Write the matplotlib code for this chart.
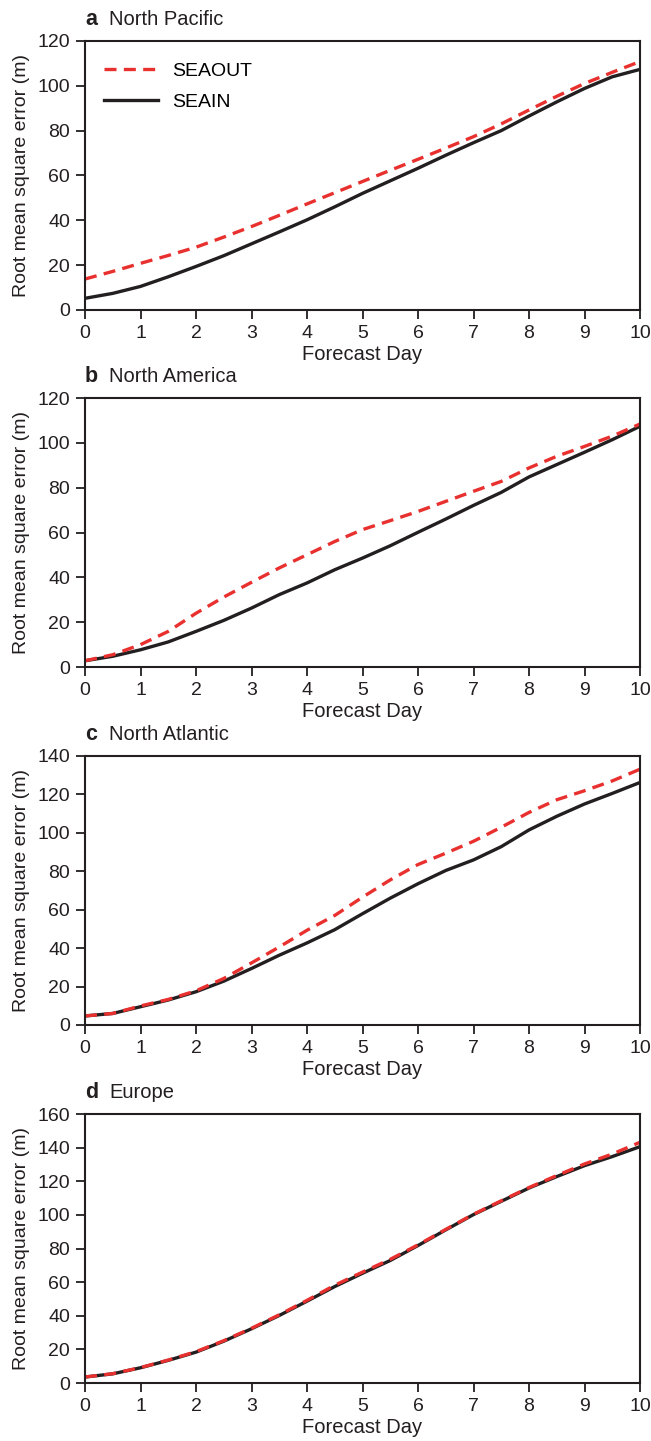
import matplotlib.pyplot as plt

plt.rcParams['font.family'] = ['Liberation Sans', 'DejaVu Sans']
plt.rcParams['font.size'] = 14

days = [0, 0.5, 1, 1.5, 2, 2.5, 3, 3.5, 4, 4.5, 5, 5.5, 6, 6.5, 7, 7.5, 8, 8.5, 9, 9.5, 10]

# panel a - North Pacific
pac_out = [13.8, 17.2, 20.8, 24.3, 28.0, 32.5, 37.2, 42.2, 47.3, 52.3, 57.3, 62.3, 67.2, 72.2, 77.3, 83.0, 89.2, 95.3, 101.0, 106.0, 110.8]
pac_in = [5.2, 7.4, 10.5, 14.8, 19.4, 24.2, 29.5, 34.8, 40.2, 46.0, 52.0, 57.6, 63.2, 69.0, 74.6, 80.0, 86.5, 92.8, 98.8, 104.0, 107.3]

# panel b - North America
am_out = [2.8, 5.5, 10.0, 15.9, 24.0, 31.2, 37.8, 44.2, 50.1, 56.0, 61.3, 65.3, 69.4, 73.9, 78.4, 82.8, 88.8, 94.0, 98.4, 103.0, 108.4]
am_in = [2.8, 4.8, 7.7, 11.2, 15.9, 20.8, 26.3, 32.3, 37.5, 43.4, 48.6, 54.1, 60.1, 66.0, 72.1, 77.9, 84.8, 90.3, 95.8, 101.4, 107.4]

# panel c - North Atlantic
atl_out = [4.7, 6.0, 9.9, 13.3, 17.8, 24.2, 32.3, 40.6, 49.3, 57.0, 66.5, 75.5, 83.5, 89.4, 95.6, 102.9, 110.6, 117.2, 121.9, 127.0, 133.1]
atl_in = [4.7, 6.0, 9.5, 13.0, 17.3, 22.8, 29.4, 36.3, 42.7, 49.6, 57.9, 66.0, 73.5, 80.4, 85.9, 92.8, 101.5, 108.6, 115.0, 120.5, 126.2]

# panel d - Europe
eu_out = [3.6, 5.6, 9.2, 13.7, 18.7, 25.2, 32.6, 40.6, 49.2, 58.2, 66.0, 73.6, 82.2, 91.4, 100.4, 108.4, 116.3, 123.4, 130.3, 136.2, 143.2]
eu_in = [3.6, 5.5, 9.1, 13.5, 18.4, 24.9, 32.3, 40.2, 48.7, 57.4, 65.3, 72.9, 81.8, 91.1, 100.2, 108.1, 116.0, 122.8, 129.3, 134.7, 140.6]

panels = [
    ("a", "North Pacific", pac_out, pac_in, 120),
    ("b", "North America", am_out, am_in, 120),
    ("c", "North Atlantic", atl_out, atl_in, 140),
    ("d", "Europe", eu_out, eu_in, 160),
]
bottoms = [0.7849, 0.5371, 0.2887, 0.0402]

fig = plt.figure(figsize=(6.51, 14.41), dpi=100)

for i, (letter, name, out, inn, ymax) in enumerate(panels):
    ax = fig.add_axes([0.1306, bottoms[i], 0.8525, 0.1867])
    ax.plot(days, inn, color="#231f20", lw=2.4, label="SEAIN")
    ax.plot(days, out, color="#e8312f", lw=2.4, linestyle=(0, (3.6, 2.2)), label="SEAOUT")
    ax.set_xlim(0, 10)
    ax.set_ylim(0, ymax)
    ax.set_xticks(range(0, 11))
    ax.set_yticks(range(0, ymax + 1, 20))
    ax.tick_params(direction="out", length=6.3, width=1.3, labelsize=14, pad=4.5, colors="#231f20")
    for s in ax.spines.values():
        s.set_linewidth(1.5)
        s.set_color("#231f20")
    ax.set_xlabel("Forecast Day", fontsize=14.5, labelpad=2, color="#231f20")
    ax.set_ylabel("Root mean square error (m)", fontsize=14, labelpad=5, color="#231f20")
    ax.text(0, 1.06, letter, transform=ax.transAxes, fontsize=15.5, fontweight="bold",
            va="baseline", color="#231f20")
    ax.text(0.043, 1.06, name, transform=ax.transAxes, fontsize=14.5,
            va="baseline", color="#231f20")
    if i == 0:
        h, l = ax.get_legend_handles_labels()
        ax.legend(h[::-1], l[::-1], loc="upper left", frameon=False, fontsize=14,
                  handlelength=2.75, handletextpad=0.75, labelspacing=0.7,
                  bbox_to_anchor=(0.003, 0.985))

fig.savefig("out.png", dpi=100)
